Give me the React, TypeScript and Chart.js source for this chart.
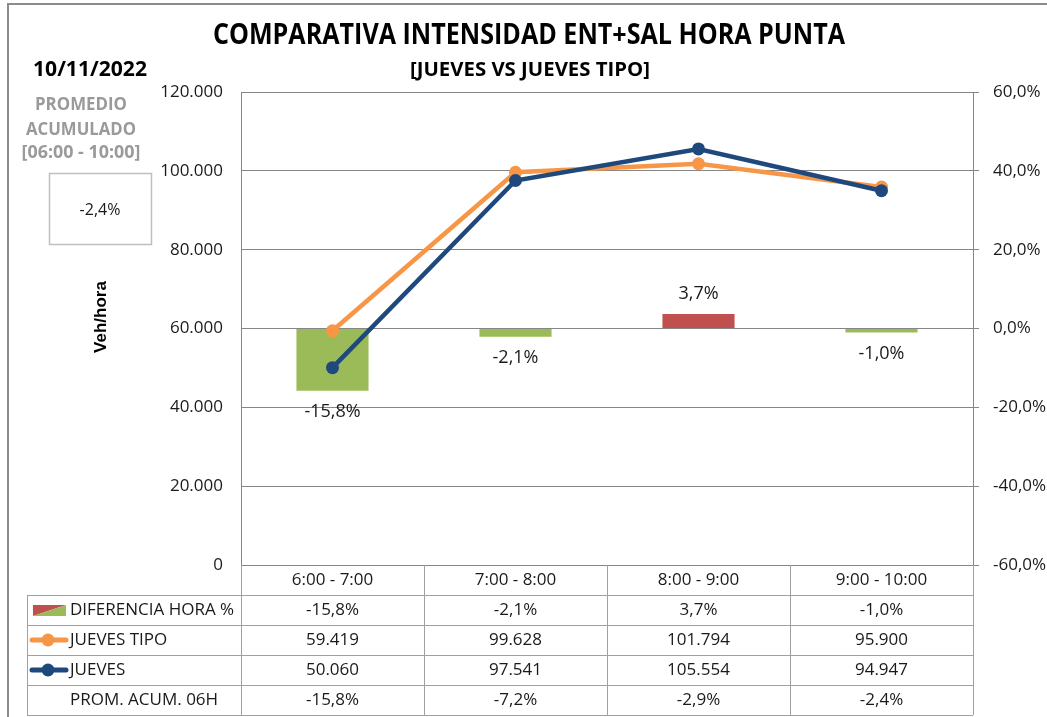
import React, { useEffect, useRef } from "react";
import { Chart, registerables } from "chart.js";

Chart.register(...registerables);

// ---------------- data ----------------
const CATEGORIES = ["6:00 - 7:00", "7:00 - 8:00", "8:00 - 9:00", "9:00 - 10:00"];
const DIFERENCIA_HORA = [-15.8, -2.1, 3.7, -1.0];
const JUEVES_TIPO = [59419, 99628, 101794, 95900];
const JUEVES = [50060, 97541, 105554, 94947];
const PROM_ACUM_06H = [-15.8, -7.2, -2.9, -2.4];

const LEFT_AXIS = [0, 120000, 20000]; // min, max, step
const RIGHT_AXIS = [-60, 60, 20]; // min, max, step (%)

const TITLE = "COMPARATIVA INTENSIDAD ENT+SAL HORA PUNTA";
const SUBTITLE = "[JUEVES VS JUEVES TIPO]";
const DATE_TEXT = "10/11/2022";
const PROM_LINES = ["PROMEDIO", "ACUMULADO", "[06:00 - 10:00]"];
const Y_TITLE = "Veh/hora";
const ROW_LABELS = ["DIFERENCIA HORA %", "JUEVES TIPO", "JUEVES", "PROM. ACUM. 06H"];

// ---------------- styles ----------------
const ORANGE = "#F79646";
const NAVY = "#1F497D";
const GREEN = "#9BBB59";
const RED = "#C0504D";
const GRID = "#868686";
const TABLE_LINE = "#A0A0A0";
const TEXT = "#1a1a1a";
const FONT = '"Open Sans", "Noto Sans", sans-serif';

const fmtThousands = (v: number) =>
  Math.round(v).toString().replace(/\B(?=(\d{3})+(?!\d))/g, ".");
const fmtPct = (v: number) => v.toFixed(1).replace(".", ",") + "%";

function fitText(
  ctx: CanvasRenderingContext2D,
  text: string,
  x: number,
  y: number,
  targetW: number,
  font: string,
  color: string,
  align: "center" | "left" | "right" = "center"
) {
  ctx.save();
  ctx.font = font;
  ctx.fillStyle = color;
  ctx.textBaseline = "middle";
  ctx.textAlign = "left";
  const w = ctx.measureText(text).width;
  const s = targetW / w;
  const left = align === "center" ? x - targetW / 2 : align === "left" ? x : x - targetW;
  ctx.translate(left, y);
  ctx.scale(s, 1);
  ctx.fillText(text, 0, 0);
  ctx.restore();
}

function plainText(
  ctx: CanvasRenderingContext2D,
  text: string,
  x: number,
  y: number,
  font: string,
  color: string,
  align: CanvasTextAlign = "center"
) {
  ctx.save();
  ctx.font = font;
  ctx.fillStyle = color;
  ctx.textBaseline = "middle";
  ctx.textAlign = align;
  ctx.fillText(text, x, y);
  ctx.restore();
}

const decorPlugin = {
  id: "decor",
  beforeDraw(chart: any) {
    const { ctx, width, height } = chart;
    ctx.save();
    ctx.fillStyle = "#fff";
    ctx.fillRect(0, 0, width, height);
    ctx.strokeStyle = "#8c8c8c";
    ctx.lineWidth = 2;
    ctx.strokeRect(8, 4, width + 50, height + 50);
    ctx.restore();
  },
  afterDatasetsDraw(chart: any) {
    const { ctx } = chart;
    const meta = chart.getDatasetMeta(0);
    meta.data.forEach((el: any, i: number) => {
      const v = DIFERENCIA_HORA[i];
      const y = v < 0 ? el.y + 21 : el.y - 20;
      plainText(ctx, fmtPct(v), el.x, y, `18px ${FONT}`, TEXT);
    });
  },
  afterDraw(chart: any) {
    const { ctx, chartArea: ca } = chart;
    const xs = chart.scales.x;

    // titles
    fitText(ctx, TITLE, 529, 36, 632, `bold 29px ${FONT}`, "#000");
    fitText(ctx, SUBTITLE, 530, 70, 240, `bold 20px ${FONT}`, "#000");
    fitText(ctx, DATE_TEXT, 90, 70, 114, `bold 21px ${FONT}`, "#000");

    // promedio panel
    const promW = [92, 110, 119];
    const promY = [105, 130, 153];
    PROM_LINES.forEach((t, i) =>
      fitText(ctx, t, 81, promY[i], promW[i], `bold 17px ${FONT}`, "#9A9A9A")
    );
    ctx.save();
    ctx.strokeStyle = "#BFBFBF";
    ctx.lineWidth = 1.5;
    ctx.strokeRect(49.5, 173.5, 102, 71);
    ctx.restore();
    plainText(ctx, fmtPct(PROM_ACUM_06H[PROM_ACUM_06H.length - 1]), 100, 210, `16px ${FONT}`, TEXT);

    // y axis title
    ctx.save();
    ctx.translate(101, 317);
    ctx.rotate(-Math.PI / 2);
    ctx.font = `bold 17px "Liberation Sans", Arial, sans-serif`;
    ctx.fillStyle = "#000";
    ctx.textAlign = "center";
    ctx.textBaseline = "middle";
    ctx.fillText(Y_TITLE, 0, 0);
    ctx.restore();

    // data table
    const n = CATEGORIES.length;
    const colW = (ca.right - ca.left) / n;
    const rowH = 30;
    const headTop = ca.bottom;
    const bodyTop = headTop + rowH;
    const tableLeft = 27;
    const nRows = ROW_LABELS.length;
    const bottom = bodyTop + nRows * rowH;

    ctx.save();
    ctx.strokeStyle = TABLE_LINE;
    ctx.lineWidth = 1;
    ctx.beginPath();
    for (let i = 0; i <= n; i++) {
      const x = Math.round(ca.left + i * colW) + 0.5;
      ctx.moveTo(x, headTop);
      ctx.lineTo(x, bottom);
    }
    ctx.moveTo(tableLeft + 0.5, bodyTop);
    ctx.lineTo(tableLeft + 0.5, bottom);
    for (let r = 0; r <= nRows; r++) {
      const y = Math.round(bodyTop + r * rowH) + 0.5;
      ctx.moveTo(tableLeft, y);
      ctx.lineTo(ca.right, y);
    }
    ctx.stroke();
    ctx.restore();

    const tFont = `17px ${FONT}`;
    CATEGORIES.forEach((c, i) => {
      const cx = xs.getPixelForValue(i);
      plainText(ctx, c, cx, headTop + 15, tFont, TEXT);
      plainText(ctx, fmtPct(DIFERENCIA_HORA[i]), cx, bodyTop + 15, tFont, TEXT);
      plainText(ctx, fmtThousands(JUEVES_TIPO[i]), cx, bodyTop + 45, tFont, TEXT);
      plainText(ctx, fmtThousands(JUEVES[i]), cx, bodyTop + 75, tFont, TEXT);
      plainText(ctx, fmtPct(PROM_ACUM_06H[i]), cx, bodyTop + 105, tFont, TEXT);
    });
    ROW_LABELS.forEach((t, r) => {
      plainText(ctx, t, 70, bodyTop + r * rowH + 15, tFont, TEXT, "left");
    });

    // legend keys
    ctx.save();
    const ky = bodyTop + 10;
    ctx.fillStyle = RED;
    ctx.beginPath();
    ctx.moveTo(33, ky);
    ctx.lineTo(66, ky);
    ctx.lineTo(33, ky + 11);
    ctx.closePath();
    ctx.fill();
    ctx.fillStyle = GREEN;
    ctx.beginPath();
    ctx.moveTo(66, ky);
    ctx.lineTo(66, ky + 11);
    ctx.lineTo(33, ky + 11);
    ctx.closePath();
    ctx.fill();
    [ORANGE, NAVY].forEach((col, k) => {
      const y = bodyTop + (k + 1) * rowH + 15;
      ctx.strokeStyle = col;
      ctx.lineWidth = 5;
      ctx.lineCap = "round";
      ctx.beginPath();
      ctx.moveTo(32, y);
      ctx.lineTo(66, y);
      ctx.stroke();
      ctx.fillStyle = col;
      ctx.beginPath();
      ctx.arc(48, y, 6.5, 0, Math.PI * 2);
      ctx.fill();
    });
    ctx.restore();
  },
};

export default function App() {
  const ref = useRef<HTMLCanvasElement | null>(null);

  useEffect(() => {
    if (!ref.current) return;
    const chart = new Chart(ref.current, {
      type: "bar",
      data: {
        labels: CATEGORIES,
        datasets: [
          {
            type: "bar",
            label: ROW_LABELS[0],
            data: DIFERENCIA_HORA,
            yAxisID: "y1",
            backgroundColor: DIFERENCIA_HORA.map((v) => (v < 0 ? GREEN : RED)),
            borderWidth: 0,
            barPercentage: 0.394,
            categoryPercentage: 1,
            order: 3,
          },
          {
            type: "line",
            label: ROW_LABELS[1],
            data: JUEVES_TIPO,
            yAxisID: "y",
            borderColor: ORANGE,
            backgroundColor: ORANGE,
            borderWidth: 4.5,
            pointRadius: 6.5,
            pointBackgroundColor: ORANGE,
            pointBorderColor: ORANGE,
            pointBorderWidth: 0,
            tension: 0,
            order: 2,
          },
          {
            type: "line",
            label: ROW_LABELS[2],
            data: JUEVES,
            yAxisID: "y",
            borderColor: NAVY,
            backgroundColor: NAVY,
            borderWidth: 4.5,
            pointRadius: 6.5,
            pointBackgroundColor: NAVY,
            pointBorderColor: NAVY,
            pointBorderWidth: 0,
            tension: 0,
            order: 1,
          },
        ],
      } as any,
      options: {
        responsive: false,
        animation: false,
        layout: { padding: { left: 0, right: 0, top: 92, bottom: 152 } },
        plugins: {
          legend: { display: false },
          tooltip: { enabled: false },
          title: { display: false },
        },
        scales: {
          x: {
            display: false,
            offset: true,
          },
          y: {
            position: "left",
            min: LEFT_AXIS[0],
            max: LEFT_AXIS[1],
            ticks: {
              stepSize: LEFT_AXIS[2],
              padding: 18,
              color: TEXT,
              font: { family: FONT, size: 17 },
              callback: (v: any) => fmtThousands(Number(v)),
            },
            grid: { display: false, drawTicks: false },
            border: { display: true, color: GRID, width: 1 },
            afterFit: (s: any) => {
              s.width = 241;
            },
          },
          y1: {
            position: "right",
            min: RIGHT_AXIS[0],
            max: RIGHT_AXIS[1],
            ticks: {
              stepSize: RIGHT_AXIS[2],
              padding: 14,
              color: TEXT,
              font: { family: FONT, size: 17 },
              callback: (v: any) => fmtPct(Number(v)),
            },
            grid: {
              display: true,
              color: GRID,
              lineWidth: 1,
              drawTicks: true,
              tickLength: 6,
              tickColor: GRID,
            },
            border: { display: true, color: GRID, width: 1 },
            afterFit: (s: any) => {
              s.width = 74;
            },
          },
        },
      } as any,
      plugins: [decorPlugin],
    });
    return () => chart.destroy();
  }, []);

  return (
    <div style={{ position: "fixed", left: 0, top: 0, width: 1047, height: 717, background: "#fff" }}>
      <canvas ref={ref} width={1047} height={717} style={{ display: "block" }} />
    </div>
  );
}
